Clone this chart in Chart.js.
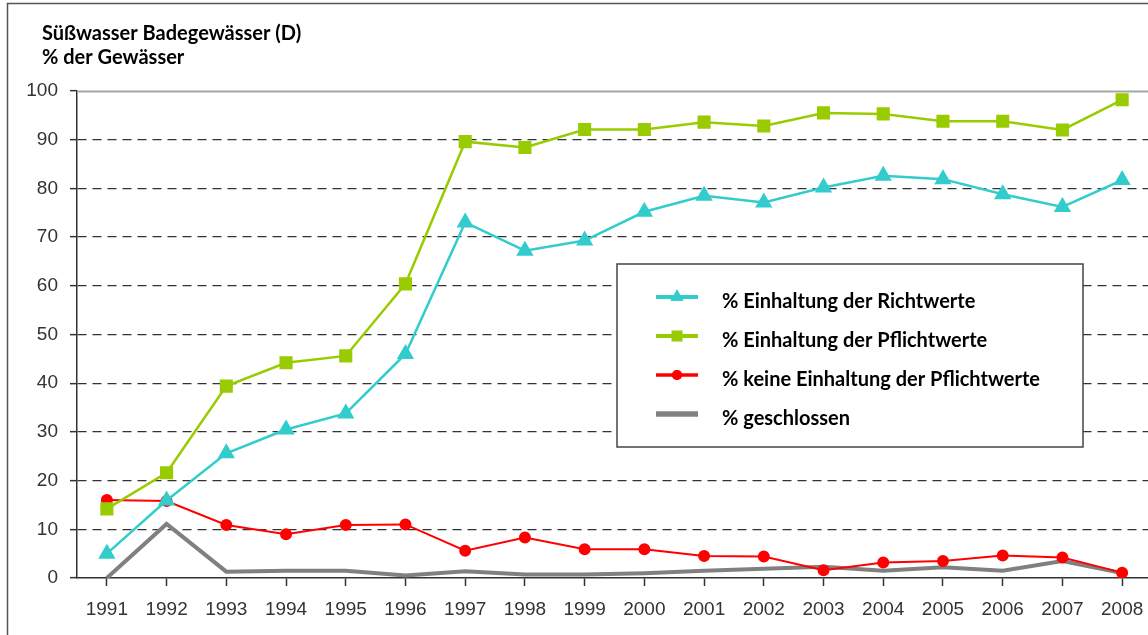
<!DOCTYPE html>
<html>
<head>
<meta charset="utf-8">
<script src="https://cdn.jsdelivr.net/npm/chart.js@4.4.0/dist/chart.umd.min.js"></script>
<style>
  html, body { margin: 0; padding: 0; background: #fff; overflow: hidden; }
  #wrap { position: relative; width: 1162px; height: 635px; }
</style>
</head>
<body>
<div id="wrap"><canvas id="chart"></canvas></div>
<script>
const years = ['1991', '1992', '1993', '1994', '1995', '1996', '1997', '1998', '1999',
  '2000', '2001', '2002', '2003', '2004', '2005', '2006', '2007', '2008'];
const richtwerte = [5.0, 15.9, 25.6, 30.5, 33.8, 46.0, 73.0, 67.2, 69.3, 75.2, 78.5, 77.1, 80.2, 82.6, 81.9, 78.8, 76.2, 81.7];
const pflichtwerte = [14.2, 21.6, 39.4, 44.2, 45.6, 60.4, 89.6, 88.4, 92.1, 92.1, 93.6, 92.8, 95.5, 95.3, 93.8, 93.8, 92.0, 98.2];
const keineEinhaltung = [16.0, 15.8, 10.9, 9.0, 10.9, 11.0, 5.6, 8.3, 5.9, 5.9, 4.5, 4.4, 1.6, 3.2, 3.5, 4.6, 4.2, 1.1];
const geschlossen = [0, 11.1, 1.3, 1.5, 1.5, 0.5, 1.4, 0.7, 0.7, 1.0, 1.5, 1.9, 2.3, 1.5, 2.2, 1.5, 3.5, 1.0];
const titleLines = ['Süßwasser Badegewässer (D)', '% der Gewässer'];

const boldFont = 'bold 20px Lato, "Open Sans", sans-serif';

// frame, title and top line of the plot
const decor = {
  id: 'decor',
  beforeDraw(chart) {
    const ctx = chart.ctx;
    ctx.save();
    ctx.strokeStyle = '#555';
    ctx.lineWidth = 1.5;
    ctx.strokeRect(7.5, 3.5, chart.width + 20, chart.height + 20);
    ctx.fillStyle = '#000';
    ctx.font = boldFont;
    ctx.textBaseline = 'alphabetic';
    titleLines.forEach((t, i) => ctx.fillText(t, 42, 40 + i * 24));
    ctx.restore();
  },
  beforeDatasetsDraw(chart) {
    const { ctx, chartArea } = chart;
    const y = Math.round(chart.scales.y.getPixelForValue(100)) + 0.5;
    ctx.save();
    ctx.strokeStyle = '#a6a6a6';
    ctx.lineWidth = 2;
    ctx.beginPath();
    ctx.moveTo(chartArea.left, y);
    ctx.lineTo(chartArea.right, y);
    ctx.stroke();
    ctx.restore();
  }
};

// boxed legend inside the plot
const boxLegend = {
  id: 'boxLegend',
  afterDraw(chart) {
    const { ctx, chartArea } = chart;
    const left = chartArea.left + 540, top = chartArea.top + 173;
    const w = 466, h = 183;
    ctx.save();
    ctx.fillStyle = '#fff';
    ctx.fillRect(left, top, w, h);
    ctx.strokeStyle = '#444';
    ctx.lineWidth = 1.5;
    ctx.strokeRect(left, top, w, h);
    chart.data.datasets.forEach((ds, i) => {
      const ty = top + 38 + i * 39;
      const sy = ty - 5;
      ctx.strokeStyle = ds.borderColor;
      ctx.lineWidth = ds.borderWidth + 1.5;
      ctx.beginPath();
      ctx.moveTo(left + 39, sy);
      ctx.lineTo(left + 81, sy);
      ctx.stroke();
      if (ds.pointRadius > 0) {
        ctx.fillStyle = ds.backgroundColor;
        Chart.helpers.drawPoint(ctx, {
          pointStyle: ds.pointStyle, radius: ds.pointRadius, rotation: 0, borderWidth: 0
        }, left + 60, sy);
        ctx.fill();
      }
      ctx.fillStyle = '#000';
      ctx.font = boldFont;
      ctx.textBaseline = 'middle';
      ctx.fillText(ds.label, left + 105, ty);
    });
    ctx.restore();
  }
};

const tickFont = { family: '"Liberation Sans", Arial, sans-serif', size: 19 };

new Chart(document.getElementById('chart'), {
  type: 'line',
  data: {
    labels: years,
    datasets: [
      {
        label: '% Einhaltung der Richtwerte',
        data: richtwerte,
        borderColor: '#33CCCC', backgroundColor: '#33CCCC',
        borderWidth: 2.5, pointStyle: 'triangle', pointRadius: 7.5
      },
      {
        label: '% Einhaltung der Pflichtwerte',
        data: pflichtwerte,
        borderColor: '#99CC00', backgroundColor: '#99CC00',
        borderWidth: 2.5, pointStyle: 'rect', pointRadius: 7.5
      },
      {
        label: '% keine Einhaltung der Pflichtwerte',
        data: keineEinhaltung,
        borderColor: '#FF0000', backgroundColor: '#FF0000',
        borderWidth: 2, pointStyle: 'circle', pointRadius: 5
      },
      {
        label: '% geschlossen',
        data: geschlossen,
        borderColor: '#808080', backgroundColor: '#808080',
        borderWidth: 4, pointRadius: 0
      }
    ]
  },
  options: {
    responsive: true,
    maintainAspectRatio: false,
    animation: false,
    layout: { padding: { left: 27, top: 91, right: 7, bottom: 0 } },
    elements: { line: { tension: 0 }, point: { borderWidth: 0, hoverRadius: 0 } },
    plugins: { legend: { display: false }, tooltip: { enabled: false } },
    scales: {
      x: {
        offset: true,
        afterFit(scale) { scale.height = 57; },
        grid: { drawOnChartArea: false, drawTicks: true, tickLength: 8, tickColor: '#333', tickWidth: 1.5 },
        border: { color: '#333', width: 1.5 },
        ticks: { font: tickFont, color: '#333', padding: 12, maxRotation: 0, autoSkip: false }
      },
      y: {
        min: 0, max: 100,
        afterFit(scale) { scale.width = 50; },
        grid: {
          color: (c) => (c.tick && (c.tick.value === 0 || c.tick.value === 100)) ? 'rgba(0,0,0,0)' : '#333',
          lineWidth: 1.3, tickLength: 7, tickColor: '#333', tickWidth: 1.5
        },
        border: { color: '#333', width: 1.5, dash: [9, 6] },
        ticks: { stepSize: 10, font: tickFont, color: '#333', padding: 12 }
      }
    }
  },
  plugins: [decor, boxLegend]
});
</script>
</body>
</html>
